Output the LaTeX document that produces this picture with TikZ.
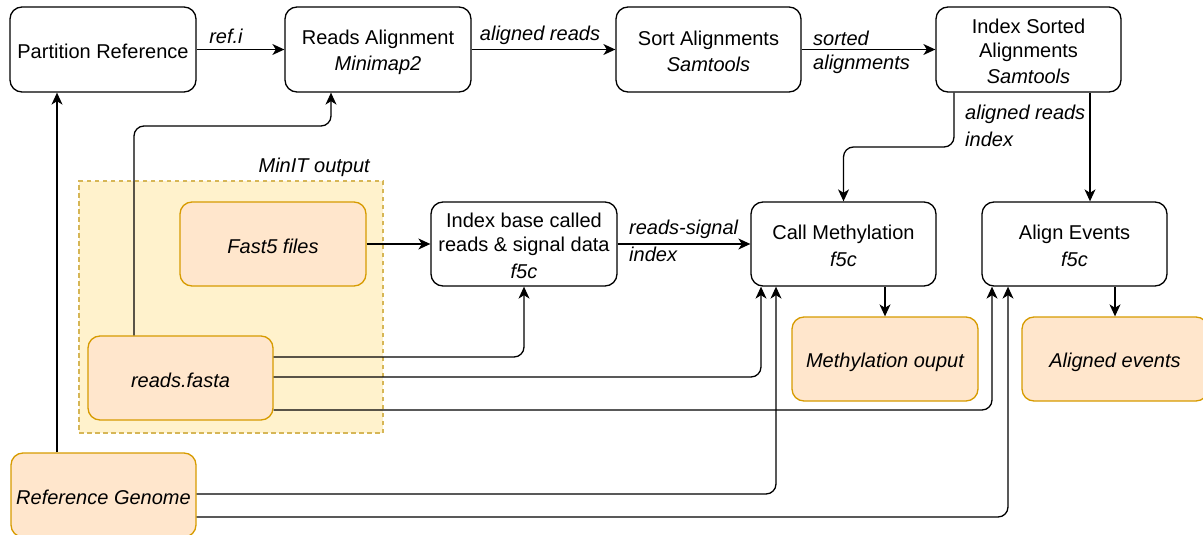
\documentclass[tikz,border=0pt]{standalone}
\usepackage{fontspec}
\setmainfont{Liberation Sans}
\usetikzlibrary{arrows.meta}
\definecolor{outfill}{HTML}{FFE6CC}
\definecolor{outline}{HTML}{D79B00}
\definecolor{grpfill}{HTML}{FFF2CC}
\definecolor{grpline}{HTML}{D6B656}
% line strut: every text line gets a 24pt line box (21pt above, 3pt below the baseline)
\newcommand{\lstrut}{\rule[-3pt]{0pt}{24pt}}

\begin{document}
\begin{tikzpicture}[x=1pt,y=-1pt,
  font=\fontsize{20}{24}\selectfont,
  proc/.style={draw=black, line width=1.3pt, rounded corners=12pt, fill=white,
    align=center, inner sep=0pt},
  data/.style={draw=outline, fill=outfill, line width=1.3pt, rounded corners=12pt,
    align=center, inner sep=0pt, font=\fontsize{20}{24}\selectfont\itshape},
  flow/.style={line width=1.3pt, rounded corners=10pt,
    -{Stealth[length=12pt,width=11pt,inset=3.5pt]}},
  lbl/.style={font=\fontsize{20}{24}\selectfont\itshape, inner sep=0pt, align=left}
]
\useasboundingbox (0,0) rectangle (1203,535);

% MinIT output group
\node[draw=grpline, fill=grpfill, line width=1.5pt, dash pattern=on 4.5pt off 3.5pt,
  minimum width=304, minimum height=252, inner sep=0pt] (minit) at (231,307) {};
\node[lbl, anchor=east] (minitlbl) at (370,167) {MinIT output};

% processing steps
\node[proc, minimum width=186, minimum height=85] (part) at (103,49.5)
  {\lstrut Partition Reference\lstrut};
\node[proc, minimum width=186, minimum height=85] (align) at (378,49.5)
  {\lstrut Reads Alignment\\\textit{Minimap2}\lstrut};
\node[proc, minimum width=185, minimum height=85] (sort) at (708.5,49.5)
  {\lstrut Sort Alignments\\\textit{Samtools}\lstrut};
\node[proc, minimum width=185, minimum height=85] (idx) at (1028.5,49.5)
  {\lstrut Index Sorted\\Alignments\\\textit{Samtools}\lstrut};
\node[proc, minimum width=186, minimum height=84] (ibc) at (524,244)
  {\lstrut Index base called\\reads \& signal data\\\textit{f5c}\lstrut};
\node[proc, minimum width=185, minimum height=84] (callm) at (843.5,244)
  {\lstrut Call Methylation\\\textit{f5c}\lstrut};
\node[proc, minimum width=185, minimum height=84] (alev) at (1074.5,244)
  {\lstrut Align Events\\\textit{f5c}\lstrut};

% data
\node[data, minimum width=186, minimum height=84] (fast5) at (273,244) {\lstrut Fast5 files\lstrut};
\node[data, minimum width=185, minimum height=84] (fasta) at (180.5,378) {\lstrut reads.fasta\lstrut};
\node[data, minimum width=186, minimum height=84] (meth) at (885,359) {\lstrut Methylation ouput\lstrut};
\node[data, minimum width=186, minimum height=84] (aev) at (1115,359) {\lstrut Aligned events\lstrut};
\node[data, minimum width=185, minimum height=84] (refg) at (103.5,495) {\lstrut Reference Genome\lstrut};

% connectors
\draw[flow] (part.east) -- (align.west);
\draw[flow] (align.east) -- (sort.west);
\draw[flow] (sort.east) -- (idx.west);
\draw[flow] (idx.south -| 954,0) -- (954,147) -- (843.5,147) -- (callm.north);
\draw[flow] (idx.south -| 1090,0) -- (alev.north -| 1090,0);
\draw[flow] (fast5.east) -- (ibc.west);
\draw[flow] (ibc.east) -- (callm.west);
\draw[flow] (callm.south -| meth.north) -- (meth.north);
\draw[flow] (alev.south -| aev.north) -- (aev.north);
\draw[flow] (refg.north -| 57,0) -- (part.south -| 57,0);
\draw[flow] (fasta.north -| 134,0) -- (134,126) -- (331,126) -- (align.south -| 331,0);
\draw[flow] (fasta.east |- 0,357) -- (ibc.south |- 0,357) -- (ibc.south);
\draw[flow] (fasta.east |- 0,377) -- (761,377) -- (callm.south -| 761,0);
\draw[flow] (fasta.east |- 0,410) -- (992,410) -- (alev.south -| 992,0);
\draw[flow] (refg.east |- 0,494) -- (776,494) -- (callm.south -| 776,0);
\draw[flow] (refg.east |- 0,517) -- (1008,517) -- (alev.south -| 1008,0);

% connector labels
\node[lbl] (lref) at (226,36) {ref.i};
\node[lbl] (lal) at (540,35) {aligned reads};
\node[lbl, anchor=west] (lsort) at (813,49) {\lstrut sorted\\alignments\lstrut};
\node[lbl, anchor=west] (lidx) at (965,124) {\lstrut aligned reads\\index\lstrut};
\node[lbl, anchor=west] (lsig) at (629,239) {\lstrut reads-signal\\index\lstrut};
\end{tikzpicture}
\end{document}
